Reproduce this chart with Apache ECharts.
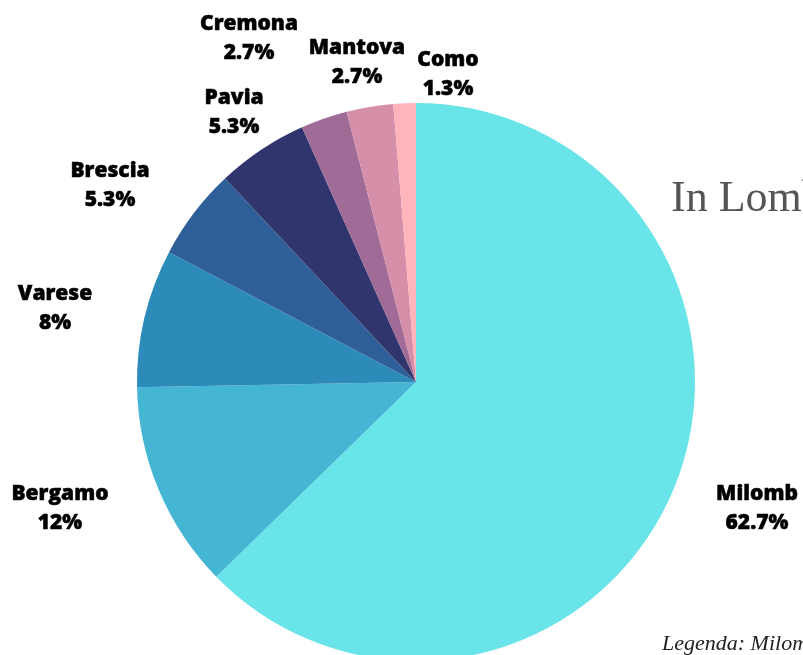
<!DOCTYPE html>
<html>
<head>
<meta charset="utf-8">
<script src="https://cdn.jsdelivr.net/npm/echarts@6/dist/echarts.min.js"></script>
<style>
html,body{margin:0;padding:0;background:#fff;}
#chart{width:803px;height:655px;}
</style>
</head>
<body>
<div id="chart"></div>
<script>
// Data
const categories = ['Milomb', 'Bergamo', 'Varese', 'Brescia', 'Pavia', 'Cremona', 'Mantova', 'Como'];
const values = [62.7, 12, 8, 5.3, 5.3, 2.7, 2.7, 1.3];
const valueLabels = ['62.7%', '12%', '8%', '5.3%', '5.3%', '2.7%', '2.7%', '1.3%'];
const colors = ['#69E4E8', '#44B5D3', '#2D8BBA', '#2F5F98', '#31356E', '#A06B97', '#D68FA9', '#FFB5BB'];
// label anchor points (layout only)
const labelAnchors = [[757, 509], [60, 509], [55, 309], [110, 186], [234, 113], [249, 39], [357, 63], [448, 75]];

const chart = echarts.init(document.getElementById('chart'));
chart.setOption({
  backgroundColor: '#fff',
  animation: false,
  graphic: [
    { type: 'text', left: 671, top: 177, style: { text: 'In Lombardia', font: '44px "Liberation Serif", serif', fill: '#555' } },
    { type: 'text', left: 662, top: 633, style: { text: 'Legenda: Milomb', font: 'italic 22px "Liberation Serif", serif', fill: '#222' } }
  ],
  series: [{
    type: 'pie',
    center: [416, 382],
    radius: 279,
    startAngle: 90,
    clockwise: true,
    label: {
      show: true,
      position: 'outside',
      formatter: p => p.name + '\n' + valueLabels[p.dataIndex],
      fontFamily: '"Open Sans", sans-serif',
      fontWeight: 900,
      fontSize: 21,
      lineHeight: 29,
      color: '#000',
      textBorderColor: '#000',
      textBorderWidth: 0.5,
      align: 'center',
      verticalAlign: 'middle',
      overflow: 'none',
      width: 200
    },
    labelLine: { show: false },
    labelLayout: p => ({ x: labelAnchors[p.dataIndex][0], y: labelAnchors[p.dataIndex][1], align: 'center', verticalAlign: 'middle' }),
    data: categories.map((c, i) => ({ name: c, value: values[i], itemStyle: { color: colors[i] } }))
  }]
});
</script>
</body>
</html>
